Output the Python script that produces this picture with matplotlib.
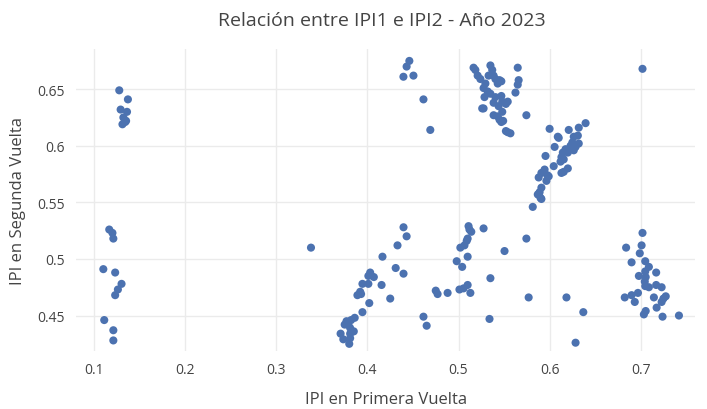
import matplotlib
matplotlib.use('Agg')
import matplotlib.pyplot as plt
from matplotlib.ticker import FuncFormatter

plt.rcParams['font.family'] = ['Open Sans', 'DejaVu Sans']

# IPI primera vuelta / segunda vuelta
ipi1 = [
    # grupo x~0.13 alto
    0.1275, 0.137, 0.129, 0.136, 0.132, 0.135, 0.134, 0.131,
    # grupo x~0.12 bajo
    0.1165, 0.120, 0.121, 0.110, 0.123, 0.130, 0.126, 0.123, 0.111, 0.121, 0.121,
    # grupo x~0.4
    0.338, 0.4396, 0.443, 0.433, 0.4165, 0.431, 0.4396, 0.403, 0.401, 0.407, 0.3945,
    0.401, 0.4155, 0.392, 0.389, 0.393, 0.425, 0.402, 0.3945, 0.386, 0.382,
    0.377, 0.375, 0.379, 0.381, 0.385, 0.3705, 0.381, 0.3735, 0.381, 0.380,
    # grupo x~0.5 medio
    0.4615, 0.465, 0.475, 0.477, 0.488, 0.498, 0.504, 0.501, 0.5055, 0.510,
    0.513, 0.502, 0.5065, 0.509, 0.510, 0.510, 0.511, 0.512, 0.514, 0.5275,
    0.535, 0.534, 0.5505, 0.5745, 0.577, 0.6185, 0.637, 0.6285,
    # grupo x~0.44 alto
    0.446, 0.443, 0.4395, 0.4505, 0.4615, 0.469,
    # grupo x~0.54 alto
    0.5165, 0.5185, 0.535, 0.537, 0.565, 0.521, 0.524, 0.533, 0.5385, 0.5405,
    0.545, 0.543, 0.547, 0.566, 0.565, 0.5295, 0.5275, 0.532, 0.5625, 0.535,
    0.5285, 0.5405, 0.547, 0.554, 0.548, 0.552, 0.5385, 0.544, 0.5275, 0.526,
    0.548, 0.5745, 0.5385, 0.543, 0.545, 0.549, 0.547, 0.552, 0.554, 0.557,
    # diagonal x~0.6
    0.600, 0.609, 0.610, 0.621, 0.632, 0.6395, 0.6265, 0.631, 0.625, 0.632,
    0.6285, 0.623, 0.6055, 0.6265, 0.6175, 0.6145, 0.620, 0.5955, 0.613, 0.6155,
    0.612, 0.6045, 0.620, 0.6155, 0.5945, 0.591, 0.5975, 0.613, 0.588, 0.599,
    0.5965, 0.591, 0.589, 0.588, 0.590, 0.5815, 0.587, 0.591,
    # grupo x~0.7
    0.702, 0.684, 0.701, 0.699, 0.690, 0.705, 0.709, 0.698, 0.705, 0.717,
    0.7055, 0.7045, 0.705, 0.709, 0.717, 0.723, 0.6825, 0.690, 0.697, 0.6935,
    0.7145, 0.7275, 0.725, 0.723, 0.7175, 0.7055, 0.7035, 0.724, 0.742,
    0.702,
]
ipi2 = [
    0.649, 0.641, 0.632, 0.630, 0.625, 0.622, 0.621, 0.619,
    0.526, 0.523, 0.518, 0.491, 0.488, 0.478, 0.473, 0.468, 0.446, 0.437, 0.428,
    0.510, 0.528, 0.520, 0.512, 0.502, 0.492, 0.487, 0.488, 0.485, 0.484, 0.478,
    0.478, 0.477, 0.471, 0.468, 0.469, 0.465, 0.461, 0.453, 0.448, 0.446,
    0.445, 0.442, 0.442, 0.439, 0.436, 0.434, 0.434, 0.429, 0.430, 0.425,
    0.449, 0.441, 0.472, 0.469, 0.470, 0.498, 0.493, 0.473, 0.474, 0.477,
    0.470, 0.510, 0.512, 0.516, 0.518, 0.502, 0.529, 0.526, 0.524, 0.527,
    0.483, 0.447, 0.507, 0.518, 0.466, 0.466, 0.453, 0.426,
    0.675, 0.670, 0.661, 0.662, 0.641, 0.614,
    0.669, 0.667, 0.671, 0.667, 0.669, 0.662, 0.659, 0.662, 0.662, 0.659,
    0.658, 0.655, 0.657, 0.658, 0.654, 0.655, 0.651, 0.648, 0.647, 0.646,
    0.643, 0.643, 0.644, 0.639, 0.639, 0.637, 0.638, 0.635, 0.633, 0.633,
    0.630, 0.627, 0.627, 0.626, 0.623, 0.622, 0.621, 0.613, 0.612, 0.611,
    0.615, 0.608, 0.607, 0.614, 0.616, 0.620, 0.608, 0.609, 0.603, 0.602,
    0.599, 0.600, 0.599, 0.596, 0.597, 0.594, 0.594, 0.591, 0.590, 0.588,
    0.586, 0.582, 0.580, 0.577, 0.579, 0.576, 0.574, 0.576, 0.572, 0.573,
    0.569, 0.563, 0.559, 0.557, 0.554, 0.546, 0.557, 0.553,
    0.523, 0.510, 0.512, 0.505, 0.497, 0.498, 0.493, 0.485, 0.489, 0.488,
    0.484, 0.480, 0.476, 0.475, 0.477, 0.475, 0.466, 0.468, 0.470, 0.462,
    0.466, 0.467, 0.465, 0.462, 0.457, 0.454, 0.451, 0.449, 0.450,
    0.668,
]

x_ticks = [0.1, 0.2, 0.3, 0.4, 0.5, 0.6, 0.7]
y_ticks = [0.45, 0.5, 0.55, 0.6, 0.65]

fig = plt.figure(figsize=(7.07, 4.10), dpi=100)
ax = fig.add_axes([0.1075, 0.141, 0.876, 0.737])

ax.scatter(ipi1, ipi2, s=34, color='#4c72b0', edgecolors='none', zorder=3)

ax.set_xlim(0.08, 0.76)
ax.set_ylim(0.4185, 0.6855)
ax.set_xticks(x_ticks)
ax.set_yticks(y_ticks)
ax.xaxis.set_major_formatter(FuncFormatter(lambda v, p: f'{v:g}'))
ax.yaxis.set_major_formatter(FuncFormatter(lambda v, p: f'{v:g}'))
ax.grid(True, color='#ebebeb', linewidth=1, zorder=0)
for s in ax.spines.values():
    s.set_visible(False)
ax.tick_params(length=0, labelsize=10, labelcolor='#444444', pad=8)

ax.set_xlabel('IPI en Primera Vuelta', fontsize=12, color='#444444', labelpad=10)
ax.set_ylabel('IPI en Segunda Vuelta', fontsize=12, color='#444444', labelpad=8)
fig.text(0.54, 0.95, 'Relación entre IPI1 e IPI2 - Año 2023', ha='center', va='center',
         fontsize=14, color='#444444')

fig.savefig('out.png', dpi=100)
